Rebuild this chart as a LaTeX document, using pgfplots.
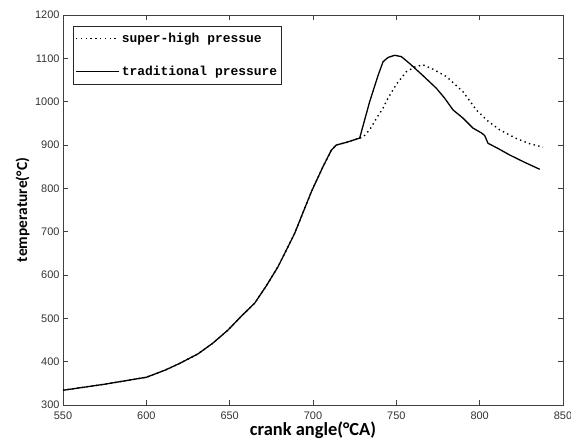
\documentclass[border=0pt]{standalone}
\usepackage{fontspec}
\setmainfont{Liberation Sans}
\newfontfamily\carlito{Carlito}
\newfontfamily\legfont{Liberation Mono}
\usepackage{pgfplots}
\pgfplotsset{compat=1.18}
\begin{document}
\begin{tikzpicture}
\begin{axis}[
  scale only axis, width=500bp, height=390bp,
  xmin=550, xmax=850, ymin=300, ymax=1200,
  xtick={550,600,...,850}, ytick={300,400,...,1200},
  tick align=inside, major tick length=5bp,
  axis line style={black!75, line width=0.8pt},
  every tick/.style={black!75, line width=0.6pt},
  tick label style={font=\fontsize{11}{13}\selectfont, text=black!80},
  xticklabel style={yshift=-3bp},
  /pgf/number format/assume math mode=true,
  /pgf/number format/1000 sep={},
  xlabel={\carlito\bfseries\fontsize{18.5}{20}\selectfont crank angle(°CA)},
  ylabel={\carlito\bfseries\fontsize{15.5}{17}\selectfont temperature(°C)},
  xlabel style={at={(0.5,0)}, anchor=north, yshift=-16bp, inner sep=1bp},
  ylabel style={at={(0,0.5)}, anchor=south, yshift=30bp},
  legend style={at={(0.02,0.972)}, anchor=north west, draw=black!85, line width=0.8pt,
    font=\legfont\bfseries\fontsize{13}{15}\selectfont, inner xsep=2bp, inner ysep=5bp,
    row sep=18bp},
  legend cell align=left,
  legend image code/.code={\draw[#1] (0bp,0bp) -- (43bp,0bp);},
]
\addplot[black, line width=1.4pt, dash pattern=on 1.4pt off 3.4pt] coordinates {
(550,334)(575,348)(600,364)(611,380)(620,396)(631,418)(640,443)(649,473)(657,505)(665,535)(672,575)(679,619)(689,696)(699,792)(706,850)(711,888)(714,900)(720,906)(728,916)
(730,918)(734,935)(738,961)(742,985)(745,1008)(750,1040)(756,1069)(761,1080)(766,1085)(772,1075)(780,1058)(790,1023)(798,981)(805,955)(812,935)(822,915)(830,903)(838,895)};
\addlegendentry{super-high pressue}
\addplot[black, line width=1.3pt] coordinates {
(550,334)(575,348)(600,364)(611,380)(620,396)(631,418)(640,443)(649,473)(657,505)(665,535)(672,575)(679,619)(689,696)(699,792)(706,850)(711,888)(714,900)(720,906)(728,916)
(734,1000)(739,1060)(742,1092)(745,1102)(749,1107)(753,1104)(758,1088)(766,1060)(774,1031)(779,1008)(784,981)(790,962)(796,939)(801,928)(803,922)(805,904)(811,892)(818,877)(827,860)(836,844)};
\addlegendentry{traditional pressure}
\end{axis}
\pgfresetboundingbox
\path[use as bounding box] (-63bp,-40bp) rectangle (508bp,405bp);
\end{tikzpicture}
\end{document}
